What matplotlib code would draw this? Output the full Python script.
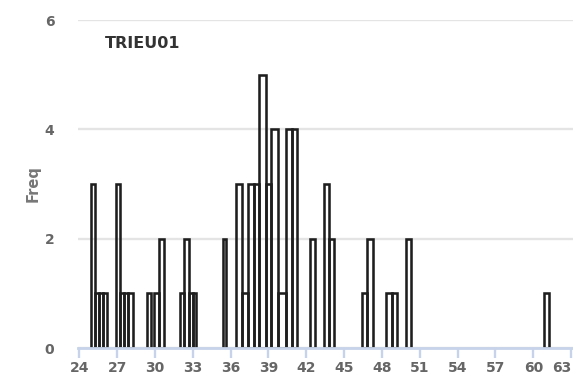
import numpy as np
import matplotlib.pyplot as plt

# bars: left edge, right edge, count
bin_left = [24.93, 25.25, 25.56, 25.88,
            26.89, 27.23, 27.56, 27.89,
            29.37, 29.90, 30.32,
            31.96, 32.33, 32.72, 33.02,
            35.40,
            36.45, 36.88, 37.38, 37.85, 38.27, 38.78, 39.20, 39.78, 40.37, 40.84,
            42.31,
            43.43, 43.80,
            46.44, 46.81,
            48.35, 48.77,
            49.93,
            60.87]
bin_right = [25.25, 25.56, 25.88, 26.20,
             27.23, 27.56, 27.89, 28.23,
             29.69, 30.32, 30.74,
             32.33, 32.72, 33.02, 33.29,
             35.66,
             36.88, 37.38, 37.85, 38.27, 38.78, 39.20, 39.78, 40.37, 40.84, 41.26,
             42.68,
             43.80, 44.22,
             46.81, 47.29,
             48.77, 49.20,
             50.30,
             61.25]
freq = [3, 1, 1, 1,
        3, 1, 1, 1,
        1, 1, 2,
        1, 2, 1, 1,
        2,
        3, 1, 3, 3, 5, 3, 4, 1, 4, 4,
        2,
        3, 2,
        1, 2,
        1, 1,
        2,
        1]

x_ticks = list(range(24, 64, 3))
y_ticks = [0, 2, 4, 6]
title = "TRIEU01"

fig = plt.figure(figsize=(5.73, 3.81), dpi=100)
ax = fig.add_axes([78 / 573, 33 / 381, 495 / 573, 328 / 381])

widths = np.array(bin_right) - np.array(bin_left)
ax.bar(bin_left, freq, width=widths, align='edge', fill=False,
       edgecolor='#1e1e1e', linewidth=1.85, zorder=1)

ax.set_xlim(23.9, 63.15)
ax.set_ylim(0, 6)
ax.set_xticks(x_ticks)
ax.set_yticks(y_ticks)
ax.grid(axis='y', color='#e4e4e4', linewidth=1.7, zorder=0)
ax.set_axisbelow(True)

for s in ['top', 'right', 'left']:
    ax.spines[s].set_visible(False)
ax.spines['bottom'].set_color('#c6d3ea')
ax.spines['bottom'].set_linewidth(2)
ax.spines['bottom'].set_zorder(3)

ax.tick_params(axis='x', length=7, width=1.7, color='#c6d3ea', pad=2,
               labelsize=10, labelcolor='#666666')
ax.tick_params(axis='y', length=0, pad=17, labelsize=10, labelcolor='#666666')
for lab in ax.get_xticklabels() + ax.get_yticklabels():
    lab.set_fontweight('bold')
ax.get_xticklabels()[-1].set_horizontalalignment('right')

ax.set_ylabel('Freq', fontsize=10.5, fontweight='bold', color='#777777', labelpad=3)
ax.text(105 / 573, 338 / 381, title, transform=fig.transFigure, fontsize=11.5,
        fontweight='bold', color='#333333', va='center', ha='left')

fig.savefig('out.png', dpi=100)
